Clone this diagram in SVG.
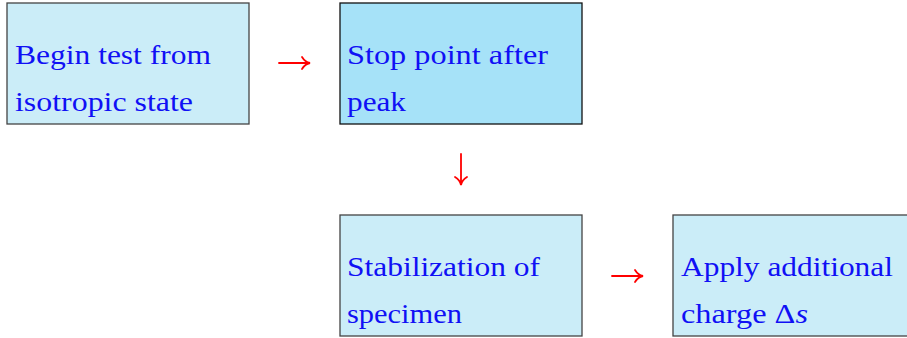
<svg xmlns="http://www.w3.org/2000/svg" width="907" height="338" viewBox="0 0 907 338">
<style>
.box{fill:#cbedf8;stroke:#444;stroke-width:1.3}
.dark{fill:#a6e2f8;stroke:#111}
.t{font-family:"Liberation Serif","Times New Roman",Times,serif;font-size:27px;fill:#1010f5}
.c{fill:none;stroke:#ff0000;stroke-width:1.8;stroke-linecap:round}
</style>
<rect width="907" height="338" fill="#fff"/>
<g id="n1">
<rect class="box" x="7" y="3" width="242" height="121"/>
<text class="t" x="15" y="64" textLength="196" lengthAdjust="spacingAndGlyphs">Begin test from</text>
<text class="t" x="15" y="111" textLength="178" lengthAdjust="spacingAndGlyphs">isotropic state</text>
</g>
<g id="n2">
<rect class="box dark" x="340" y="3" width="242" height="121"/>
<text class="t" x="347" y="64" textLength="201" lengthAdjust="spacingAndGlyphs">Stop point after</text>
<text class="t" x="347" y="111" textLength="59" lengthAdjust="spacingAndGlyphs">peak</text>
</g>
<g id="n3">
<rect class="box" x="340" y="215" width="242" height="121"/>
<text class="t" x="347" y="276" textLength="193" lengthAdjust="spacingAndGlyphs">Stabilization of</text>
<text class="t" x="347" y="323" textLength="115" lengthAdjust="spacingAndGlyphs">specimen</text>
</g>
<g id="n4">
<rect class="box" x="673" y="215" width="240" height="121"/>
<text class="t" x="681" y="276" textLength="212" lengthAdjust="spacingAndGlyphs">Apply additional</text>
<text class="t" x="681" y="323" textLength="127" lengthAdjust="spacingAndGlyphs">charge Δ<tspan font-style="italic">s</tspan></text>
</g>
<g id="connectors">
<path class="c" d="M279 63H309M302 57Q305 62 310 63Q305 64 302 69"/>
<path class="c" d="M612 276H642M635 270Q638 275 643 276Q638 277 635 282"/>
<path class="c" d="M461 154V184M455 177Q460 180 461 185Q462 180 467 177"/>
</g>
</svg>
